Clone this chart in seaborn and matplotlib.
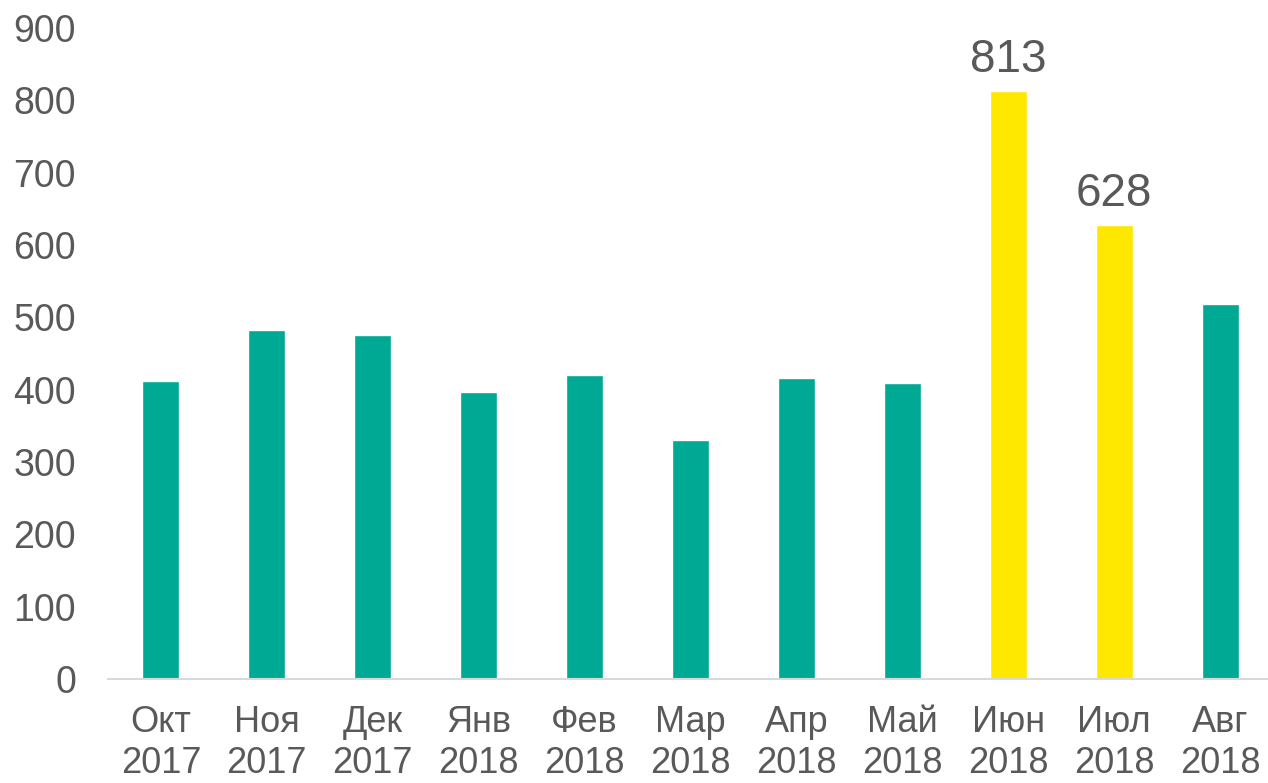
import matplotlib
matplotlib.use("Agg")
import matplotlib.pyplot as plt
import seaborn as sns
import pandas as pd

# данные графика
months = ["Окт\n2017", "Ноя\n2017", "Дек\n2017", "Янв\n2018", "Фев\n2018", "Мар\n2018",
          "Апр\n2018", "Май\n2018", "Июн\n2018", "Июл\n2018", "Авг\n2018"]
values = [412, 482, 475, 397, 420, 331, 416, 409, 813, 628, 519]
highlight = [False, False, False, False, False, False, False, False, True, True, False]
y_ticks = [0, 100, 200, 300, 400, 500, 600, 700, 800, 900]

TEAL = "#00A993"
YELLOW = "#FFE800"
TEXT = "#595959"

sns.set_style("white")
plt.rcParams['font.family'] = ['Liberation Sans', 'DejaVu Sans']

df = pd.DataFrame({"month": months, "value": values,
                   "hl": ["y" if h else "n" for h in highlight]})

fig = plt.figure(figsize=(12.68, 7.83), dpi=100)
ax = fig.add_axes([108 / 1268, 1 - 679 / 783, 1165 / 1268, 651 / 783])

sns.barplot(data=df, x="month", y="value", hue="hl", palette={"n": TEAL, "y": YELLOW},
            width=0.35, dodge=False, legend=False, ax=ax, saturation=1)

# подписи только у выделенных столбцов
for i, (v, h) in enumerate(zip(values, highlight)):
    if h:
        ax.text(i, v + 12, str(v), ha="center", va="bottom", fontsize=33, color=TEXT)

ax.set_xlim(-0.5, len(months) - 0.5)
ax.set_ylim(0, 900)
ax.set_yticks(y_ticks)
ax.set_xlabel("")
ax.set_ylabel("")
ax.tick_params(axis="y", length=0, pad=23, labelsize=27, labelcolor=TEXT)
ax.tick_params(axis="x", length=0, pad=19, labelsize=26, labelcolor=TEXT)
for side in ["top", "right", "left"]:
    ax.spines[side].set_visible(False)
ax.spines["bottom"].set_color("#D9D9D9")
ax.spines["bottom"].set_linewidth(1.5)

plt.savefig("out.png", dpi=100)
plt.close()
